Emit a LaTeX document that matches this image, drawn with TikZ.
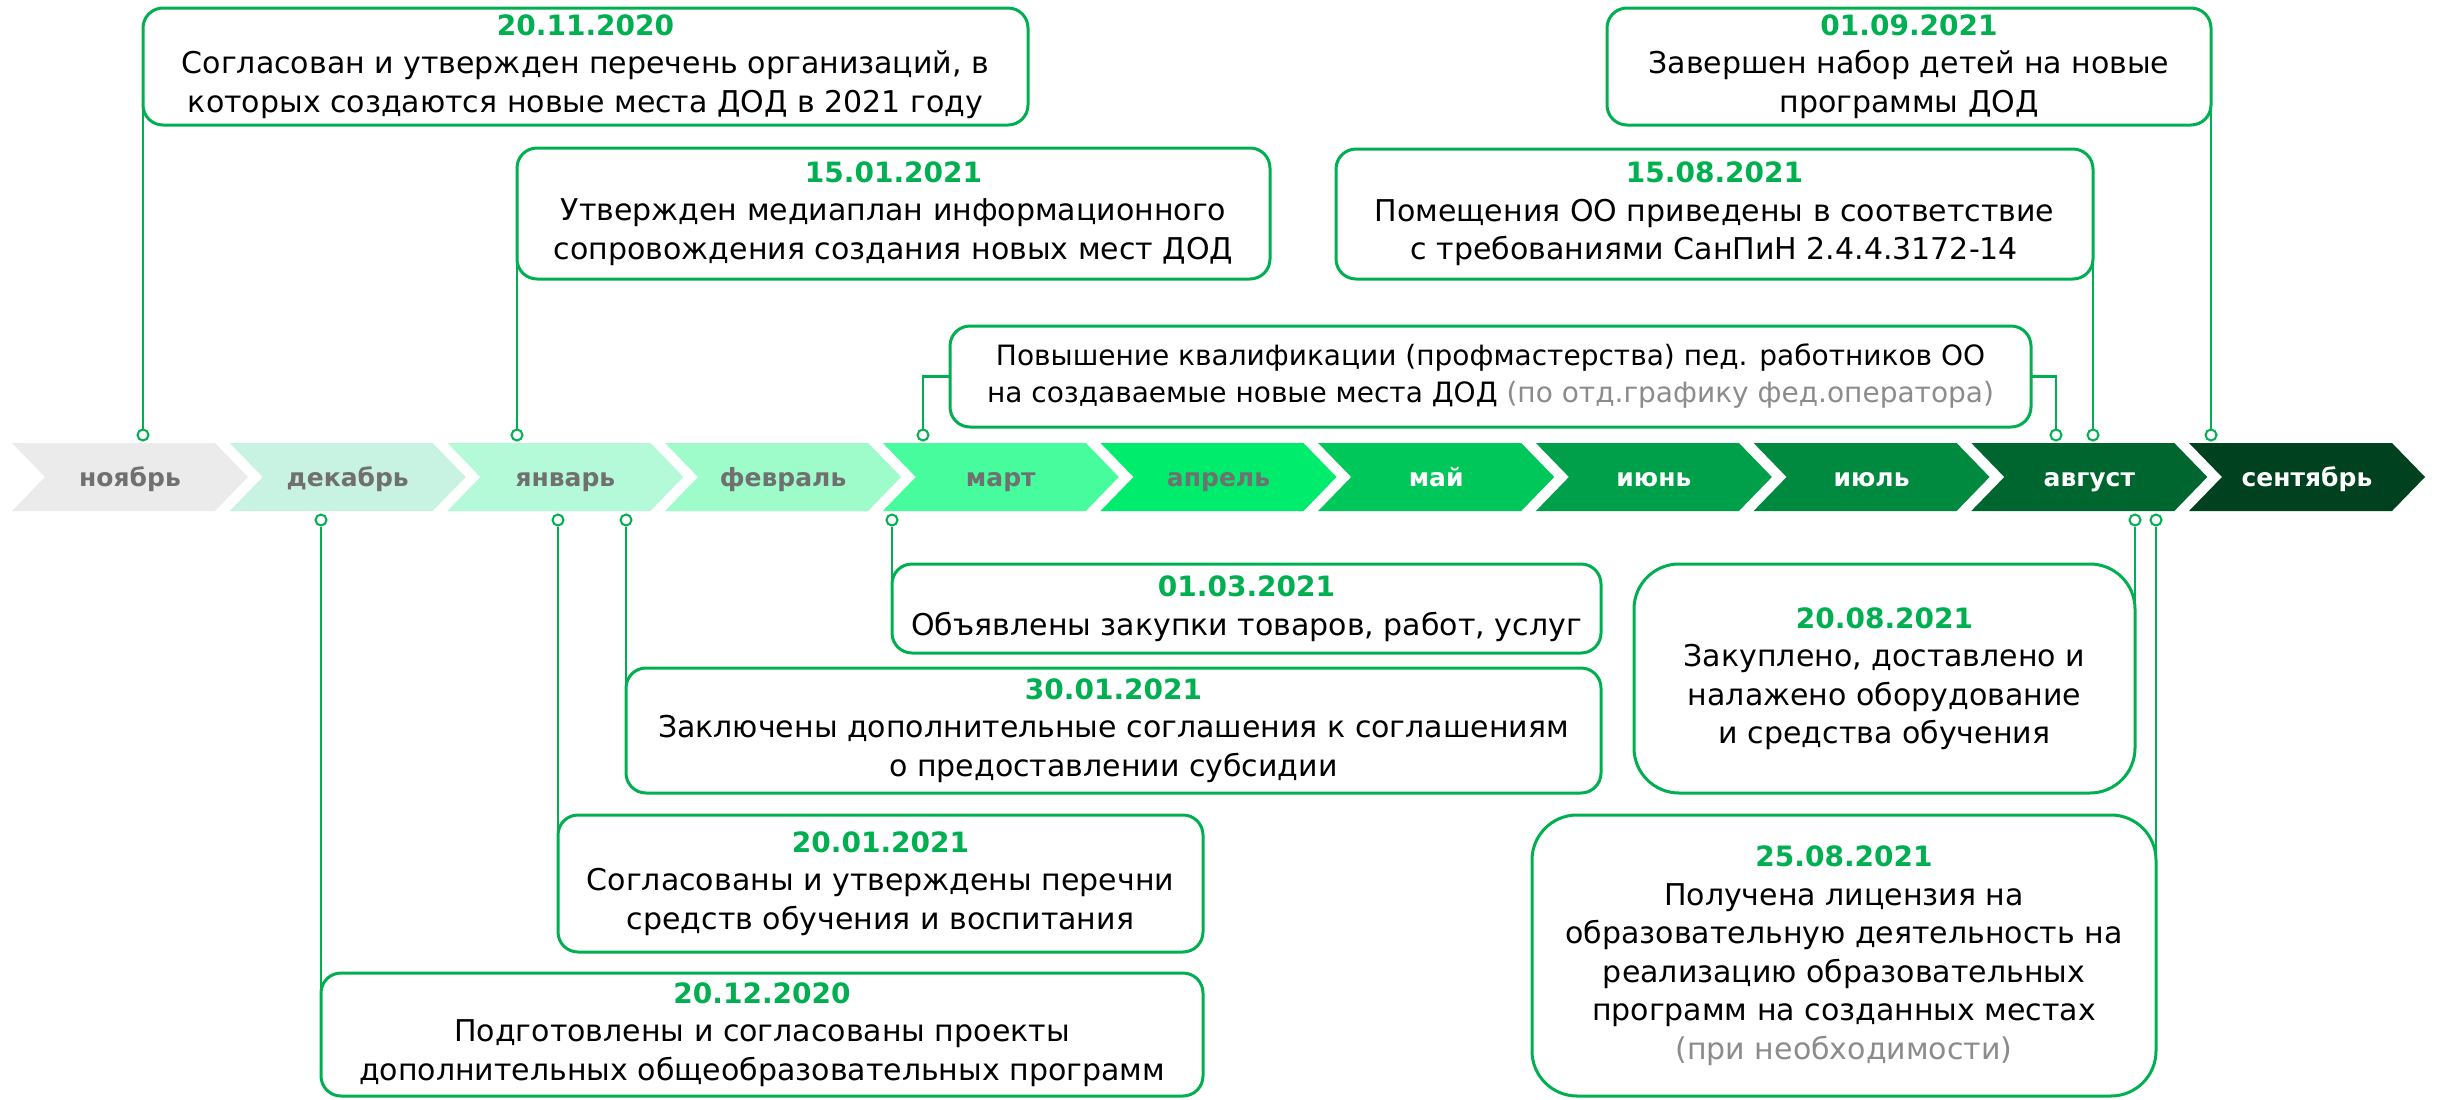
\documentclass[tikz,border=0pt]{standalone}
\usepackage{fontspec}
\setmainfont{DejaVu Sans}
\definecolor{dgreen}{HTML}{00B050}
\definecolor{txtgray}{HTML}{8C8C8C}
\definecolor{mgray}{HTML}{707070}
\definecolor{c1}{HTML}{EBEBEB}
\definecolor{c2}{HTML}{C8F2E1}
\definecolor{c3}{HTML}{B4FAD8}
\definecolor{c4}{HTML}{9EFCCA}
\definecolor{c5}{HTML}{46FC9C}
\definecolor{c6}{HTML}{00EC6C}
\definecolor{c7}{HTML}{00C75A}
\definecolor{c8}{HTML}{00A04A}
\definecolor{c9}{HTML}{008A40}
\definecolor{c10}{HTML}{006630}
\definecolor{c11}{HTML}{00421F}
\tikzset{
    event/.style={draw=dgreen, line width=3pt, fill=white, rounded corners=20pt, align=center,
        inner sep=0pt, outer sep=0pt, font=\fontsize{30}{38.5}\selectfont},
    bigevent/.style={event, rounded corners=45pt},
    link/.style={dgreen, line width=2.5pt},
    dot/.style={circle, draw=dgreen, line width=2pt, fill=white, minimum size=11pt, inner sep=0pt},
    month/.style={anchor=base, font=\fontsize{25}{30}\selectfont\bfseries}
}
\newcommand\evdate[1]{{\fontsize{28}{38.5}\selectfont\bfseries\color{dgreen}#1}}

\begin{document}
\begin{tikzpicture}[x=1pt, y=-1pt]
    \useasboundingbox (0,0) rectangle (2437,1100);

    % months
    \foreach \txt/\col/\tc [count=\i from 0] in {ноябрь/c1/mgray, декабрь/c2/mgray, январь/c3/mgray, февраль/c4/mgray, март/c5/mgray, апрель/c6/mgray, май/c7/white, июнь/c8/white, июль/c9/white, август/c10/white, сентябрь/c11/white}
    {
        \fill[\col, xshift=217.7*\i] (12,443) -- (215,443) -- (248,477) -- (215,511) -- (12,511) -- (45,477) -- cycle;
        \node[month, text=\tc] (m\i) at (130+217.7*\i,486) {\txt};
    }

    \coordinate (top) at (0,435);
    \coordinate (bot) at (0,520);

    % above the line
    \node[event, minimum width=885pt, minimum height=117pt] (orglist) at (585.5,66.5)
        {\evdate{20.11.2020}\\Согласован и утвержден перечень организаций, в\\которых создаются новые места ДОД в 2021 году};
    \node[event, minimum width=753pt, minimum height=131pt] (mediaplan) at (893.5,213.5)
        {\evdate{15.01.2021}\\Утвержден медиаплан информационного\\сопровождения создания новых мест ДОД};
    \node[event, minimum width=604pt, minimum height=117pt] (enroll) at (1909,66.5)
        {\evdate{01.09.2021}\\Завершен набор детей на новые\\программы ДОД};
    \node[event, minimum width=757pt, minimum height=130pt] (sanpin) at (1714.5,214)
        {\evdate{15.08.2021}\\Помещения ОО приведены в соответствие\\с требованиями СанПиН 2.4.4.3172-14};
    \node[event, minimum width=1081pt, minimum height=101pt, font=\fontsize{28}{37}\selectfont] (training) at (1490.5,376.5)
        {Повышение квалификации (профмастерства) пед. работников ОО\\на создаваемые новые места ДОД {\color{txtgray}(по отд.графику фед.оператора)}};

    \node[dot] (orglist-pt) at (orglist.west |- top) {};
    \node[dot] (mediaplan-pt) at (mediaplan.west |- top) {};
    \node[dot] (enroll-pt) at (enroll.east |- top) {};
    \node[dot] (sanpin-pt) at (sanpin.east |- top) {};
    \node[dot] (training-l) at (923,435) {};
    \node[dot] (training-r) at (2056,435) {};

    \draw[link] (orglist.west) -- (orglist-pt.north);
    \draw[link] (mediaplan.west) -- (mediaplan-pt.north);
    \draw[link] (enroll.east) -- (enroll-pt.north);
    \draw[link] (sanpin.east) -- (sanpin-pt.north);
    \draw[link] (training.west) -| (training-l.north);
    \draw[link] (training.east) -| (training-r.north);

    % below the line
    \node[event, minimum width=709pt, minimum height=89pt] (purchase) at (1246.5,608.5)
        {\evdate{01.03.2021}\\Объявлены закупки товаров, работ, услуг};
    \node[event, minimum width=975pt, minimum height=125pt] (agreements) at (1113.5,730.5)
        {\evdate{30.01.2021}\\Заключены дополнительные соглашения к соглашениям\\о предоставлении субсидии};
    \node[event, minimum width=645pt, minimum height=137pt] (means) at (880.5,883.5)
        {\evdate{20.01.2021}\\Согласованы и утверждены перечни\\средств обучения и воспитания};
    \node[event, minimum width=882pt, minimum height=123pt] (programs) at (762,1034.5)
        {\evdate{20.12.2020}\\Подготовлены и согласованы проекты\\дополнительных общеобразовательных программ};
    \node[bigevent, minimum width=501pt, minimum height=229pt] (equipment) at (1884.5,678.5)
        {\evdate{20.08.2021}\\Закуплено, доставлено и\\налажено оборудование\\и средства обучения};
    \node[bigevent, minimum width=624pt, minimum height=281pt] (license) at (1844,955.5)
        {\evdate{25.08.2021}\\Получена лицензия на\\образовательную деятельность на\\реализацию образовательных\\программ на созданных местах\\{\color{txtgray}(при необходимости)}};

    \node[dot] (purchase-pt) at (purchase.west |- bot) {};
    \node[dot] (agreements-pt) at (agreements.west |- bot) {};
    \node[dot] (means-pt) at (means.west |- bot) {};
    \node[dot] (programs-pt) at (programs.west |- bot) {};
    \node[dot] (equipment-pt) at (equipment.east |- bot) {};
    \node[dot] (license-pt) at (license.east |- bot) {};

    \draw[link] (purchase-pt.south) -- (purchase.west);
    \draw[link] (agreements-pt.south) -- (agreements.west);
    \draw[link] (means-pt.south) -- (means.west);
    \draw[link] (programs-pt.south) -- (programs.west);
    \draw[link] (equipment-pt.south) -- (equipment.east);
    \draw[link] (license-pt.south) -- (license.east);

\end{tikzpicture}
\end{document}
